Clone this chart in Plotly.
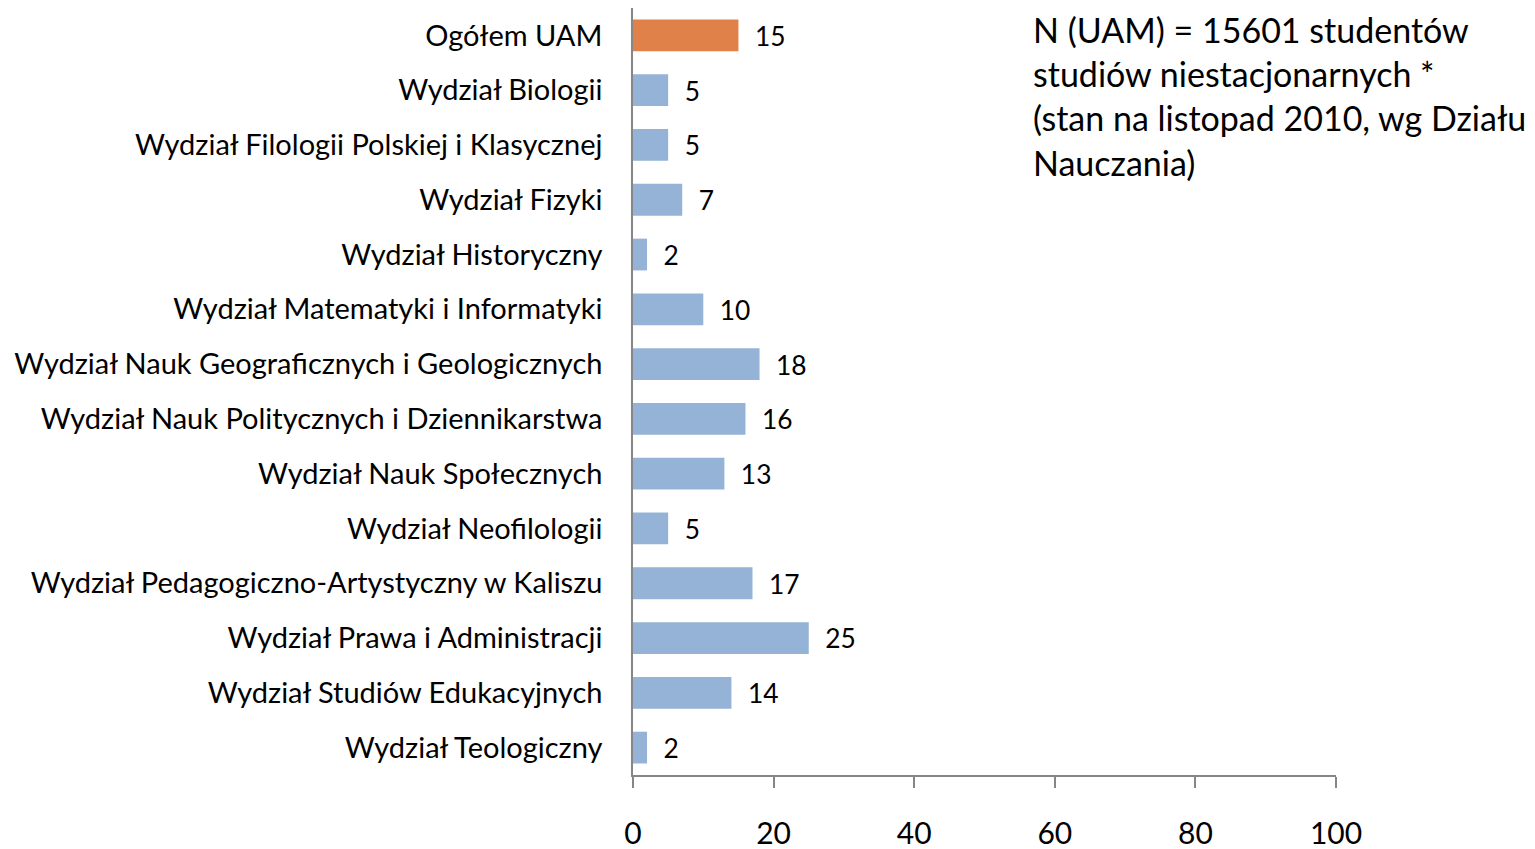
import plotly.graph_objects as go

# Data (top-to-bottom order as in the chart)
categories = [
    "Ogółem UAM",
    "Wydział Biologii",
    "Wydział Filologii Polskiej i Klasycznej",
    "Wydział Fizyki",
    "Wydział Historyczny",
    "Wydział Matematyki i Informatyki",
    "Wydział Nauk Geograficznych i Geologicznych",
    "Wydział Nauk Politycznych i Dziennikarstwa",
    "Wydział Nauk Społecznych",
    "Wydział Neofilologii",
    "Wydział Pedagogiczno-Artystyczny w Kaliszu",
    "Wydział Prawa i Administracji",
    "Wydział Studiów Edukacyjnych",
    "Wydział Teologiczny",
]
values = [15, 5, 5, 7, 2, 10, 18, 16, 13, 5, 17, 25, 14, 2]
x_ticks = [0, 20, 40, 60, 80, 100]

note = ("N (UAM) = 15601 studentów<br>studiów niestacjonarnych *<br>"
        "(stan na listopad 2010, wg Działu<br>Nauczania)")

FONT = "Lato, 'Open Sans', sans-serif"
AXIS_GREY = "#868686"

colors = ["#DF8149"] + ["#95B3D7"] * (len(values) - 1)

fig = go.Figure()
fig.add_trace(go.Bar(
    x=values,
    y=categories,
    orientation="h",
    marker=dict(color=colors, line=dict(width=0)),
    text=["\u00a0\u00a0" + str(v) for v in values],
    textposition="outside",
    cliponaxis=False,
    textfont=dict(family=FONT, size=29, color="black"),
))

# the page adds ~8px body margin, so the figure is a bit smaller than the window
fig.update_layout(
    width=1527,
    height=841,
    margin=dict(l=625, r=199, t=0, b=74, autoexpand=False),
    paper_bgcolor="white",
    plot_bgcolor="white",
    bargap=0.42,
    showlegend=False,
    font=dict(family=FONT, color="black"),
    xaxis=dict(
        range=[0, 100],
        tickvals=x_ticks,
        automargin=False,
        showgrid=False,
        zeroline=False,
        showline=True,
        linecolor=AXIS_GREY,
        linewidth=1.5,
        ticks="outside",
        ticklen=11,
        tickwidth=1.5,
        tickcolor=AXIS_GREY,
        ticklabelstandoff=20,
        tickfont=dict(family=FONT, size=30, color="black"),
    ),
    yaxis=dict(
        categoryorder="array",
        categoryarray=categories[::-1],
        automargin=False,
        showgrid=False,
        zeroline=False,
        showline=True,
        linecolor=AXIS_GREY,
        linewidth=1.5,
        ticks="",
        ticklabelstandoff=23,
        tickfont=dict(family=FONT, size=29, color="black"),
    ),
    annotations=[dict(
        text=note,
        xref="paper", yref="paper",
        x=0.568, y=1.0,
        xanchor="left", yanchor="top",
        align="left",
        showarrow=False,
        borderpad=0,
        font=dict(family=FONT, size=34, color="black"),
    )],
)

fig.write_html("out.html")
